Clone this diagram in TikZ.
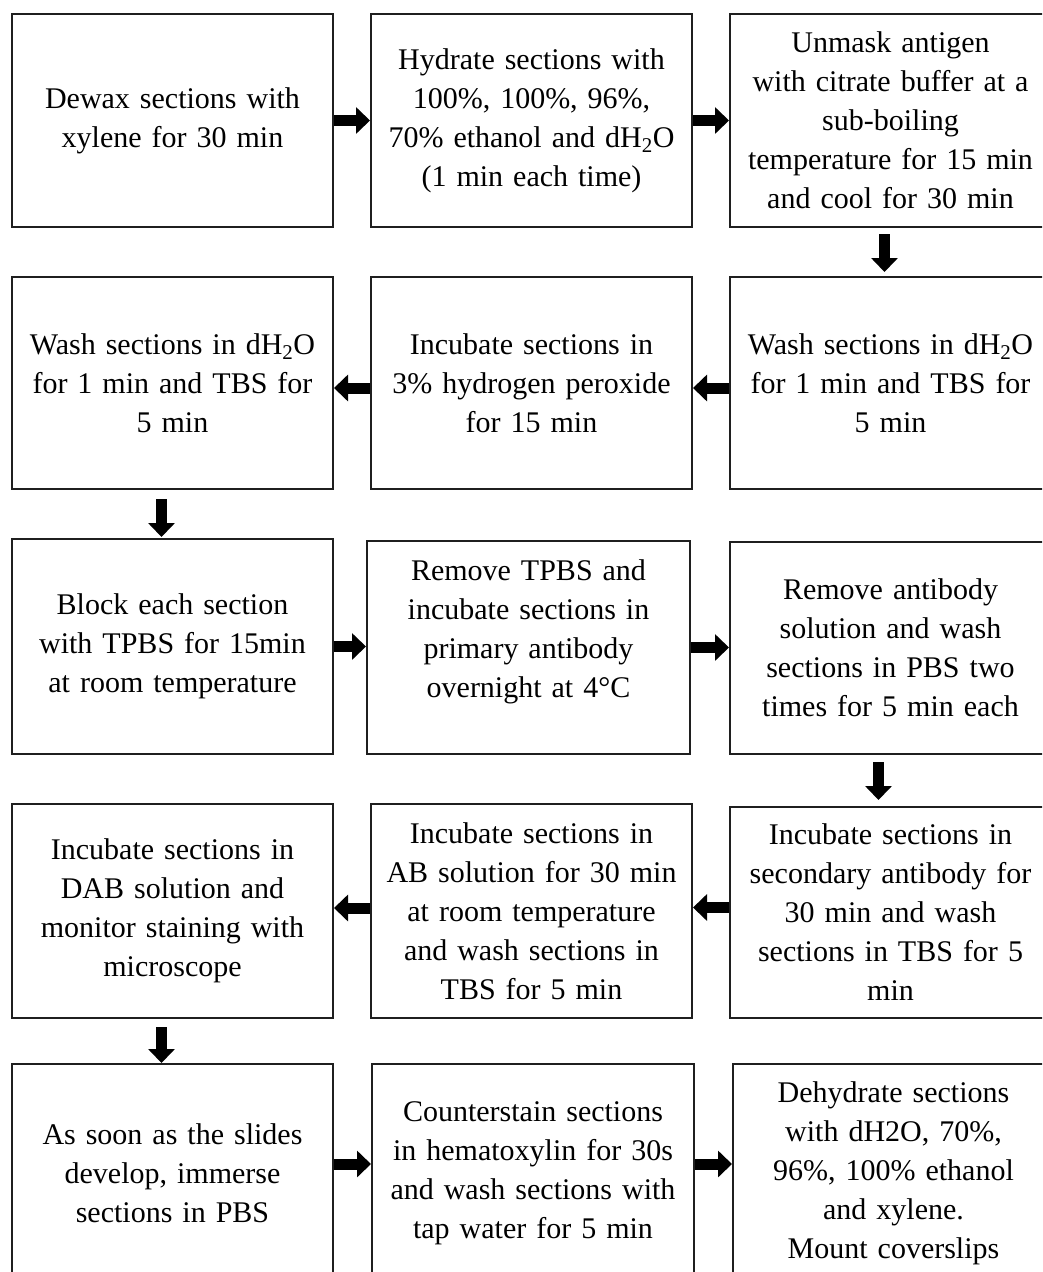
\documentclass[tikz,border=0pt]{standalone}
\usepackage{fontspec}
\setmainfont{Liberation Serif}
\usetikzlibrary{arrows.meta}
\tikzset{
  box/.style={draw=black!88, line width=2pt, fill=white, anchor=north west, align=center,
    text width=305pt, inner sep=2pt, minimum width=#1, font=\fontsize{30}{39}\selectfont},
  box/.default=321pt,
  flow/.style={line width=11pt, draw=black, -{Triangle[width=26pt,length=14pt]}}
}
\begin{document}
\begin{tikzpicture}[x=1pt,y=-1pt]
\useasboundingbox (0,0) rectangle (1042,1272);
\clip (0,0) rectangle (1042,1272);
% row 1
\node[box, minimum height=213pt] (r1a) at (11,13) {Dewax sections with\\xylene for 30 min};
\node[box, minimum height=213pt] (r1b) at (370,13) {Hydrate sections with\\100\%, 100\%, 96\%,\\70\% ethanol and dH\textsubscript{2}O\\(1 min each time)};
\node[box, minimum height=213pt] (r1c) at (729,13) {Unmask antigen\\with citrate buffer at a\\sub-boiling\\temperature for 15 min\\and cool for 30 min};
% row 2
\node[box, minimum height=212pt] (r2a) at (11,276) {Wash sections in dH\textsubscript{2}O\\for 1 min and TBS for\\5 min};
\node[box, minimum height=212pt] (r2b) at (370,276) {Incubate sections in\\3\% hydrogen peroxide\\for 15 min};
\node[box, minimum height=212pt] (r2c) at (729,276) {Wash sections in dH\textsubscript{2}O\\for 1 min and TBS for\\5 min};
% row 3
\node[box, minimum height=215pt] (r3a) at (11,538) {Block each section\\with TPBS for 15min\\at room temperature};
\node[box=323pt, minimum height=213pt, text depth=155pt] (r3b) at (366,540) {Remove TPBS and\\incubate sections in\\primary antibody\\overnight at 4°C};
\node[box, minimum height=212pt] (r3c) at (729,541) {Remove antibody\\solution and wash\\sections in PBS two\\times for 5 min each};
% row 4
\node[box, minimum height=214pt] (r4a) at (11,803) {Incubate sections in\\DAB solution and\\monitor staining with\\microscope};
\node[box, minimum height=214pt] (r4b) at (370,803) {Incubate sections in\\AB solution for 30 min\\at room temperature\\and wash sections in\\TBS for 5 min};
\node[box, minimum height=211pt] (r4c) at (729,806) {Incubate sections in\\secondary antibody for\\30 min and wash\\sections in TBS for 5\\min};
% row 5
\node[box, minimum height=218pt] (r5a) at (11,1063) {As soon as the slides\\develop, immerse\\sections in PBS};
\node[box=322pt, minimum height=218pt] (r5b) at (371,1063) {Counterstain sections\\in hematoxylin for 30s\\and wash sections with\\tap water for 5 min};
\node[box, minimum height=218pt] (r5c) at (732,1063) {Dehydrate sections\\with dH2O, 70\%,\\96\%, 100\% ethanol\\and xylene.\\Mount coverslips};
% connectors
\draw[flow] (r1a.east) -- (r1a.east -| r1b.west);
\draw[flow] (r1b.east) -- (r1b.east -| r1c.west);
\draw[flow, shorten <=6pt, shorten >=4pt] ([xshift=-6pt]r1c.south) -- ([xshift=-6pt]r2c.north);
\draw[flow] ([yshift=-5pt]r2c.west) -- ([yshift=-5pt]r2c.west -| r2b.east);
\draw[flow] ([yshift=-5pt]r2b.west) -- ([yshift=-5pt]r2b.west -| r2a.east);
\draw[flow, shorten <=9pt, shorten >=1pt] ([xshift=-11pt]r2a.south) -- ([xshift=-11pt]r3a.north);
\draw[flow] (r3a.east) -- (r3a.east -| r3b.west);
\draw[flow] (r3b.east) -- (r3b.east -| r3c.west);
\draw[flow, shorten <=7pt, shorten >=6pt] ([xshift=-12pt]r3c.south) -- ([xshift=-12pt]r4c.north);
\draw[flow] ([yshift=5pt]r4c.west) -- ([yshift=5pt]r4c.west -| r4b.east);
\draw[flow] ([yshift=3pt]r4b.west) -- ([yshift=3pt]r4b.west -| r4a.east);
\draw[flow, shorten <=8pt] ([xshift=-11pt]r4a.south) -- ([xshift=-11pt]r5a.north);
\draw[flow] ([yshift=9pt]r5a.east) -- ([yshift=9pt]r5a.east -| r5b.west);
\draw[flow] ([yshift=9pt]r5b.east) -- ([yshift=9pt]r5b.east -| r5c.west);
\end{tikzpicture}
\end{document}
